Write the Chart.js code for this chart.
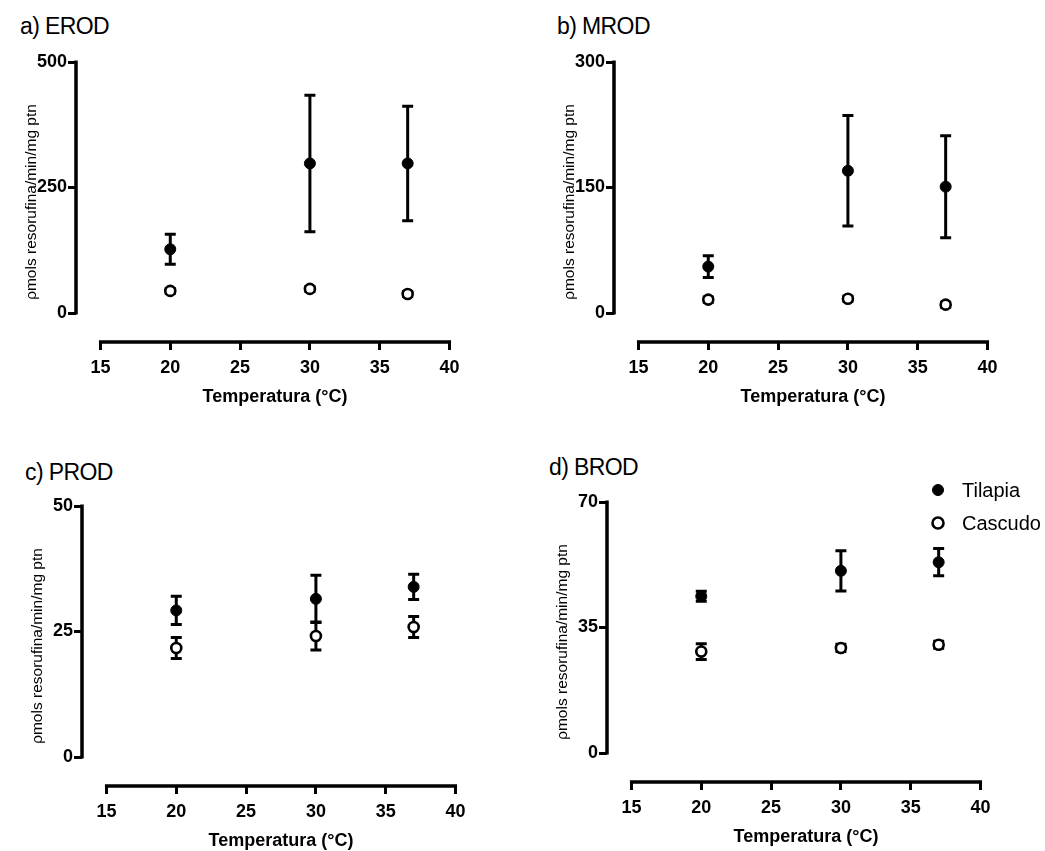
<!DOCTYPE html>
<html>
<head>
<meta charset="utf-8">
<script src="https://cdn.jsdelivr.net/npm/chart.js@4.4.1/dist/chart.umd.min.js"></script>
<style>
  body { margin: 0; width: 1045px; height: 851px; overflow: hidden; background: #fff; position: relative; }
  canvas { position: absolute; }
  .ptitle { position: absolute; font: 23px "Liberation Sans", Arial, sans-serif; line-height: 23px; letter-spacing: -0.6px; color: #000; white-space: nowrap; }
</style>
</head>
<body>
<div class="ptitle" style="left:20px;top:15px">a) EROD</div>
<div class="ptitle" style="left:557px;top:15px">b) MROD</div>
<div class="ptitle" style="left:25px;top:461px">c) PROD</div>
<div class="ptitle" style="left:549px;top:456px">d) BROD</div>
<canvas id="chartA" width="522" height="420" style="left:0px;top:0px"></canvas>
<canvas id="chartB" width="522" height="420" style="left:538px;top:0px"></canvas>
<canvas id="chartC" width="522" height="420" style="left:6px;top:444px"></canvas>
<canvas id="chartD" width="522" height="420" style="left:531px;top:440px"></canvas>
<script>
const temps = [20, 30, 37];
const xTicks = [15, 20, 25, 30, 35, 40];

// EROD
const erodTicks = [0, 250, 500];
const erodTilapia = [127, 298, 298];
const erodTilapiaErr = [30, 136, 114];
const erodCascudo = [44, 48, 38];
const erodCascudoErr = [5, 5, 5];

// MROD
const mrodTicks = [0, 150, 300];
const mrodTilapia = [55.5, 170, 151];
const mrodTilapiaErr = [13, 66, 61];
const mrodCascudo = [16, 17, 10];
const mrodCascudoErr = [3, 3, 3];

// PROD
const prodTicks = [0, 25, 50];
const prodTilapia = [29.2, 31.5, 33.9];
const prodTilapiaErr = [2.8, 4.7, 2.5];
const prodCascudo = [21.7, 24.1, 25.9];
const prodCascudoErr = [2.1, 2.8, 2.1];

// BROD
const brodTicks = [0, 35, 70];
const brodTilapia = [43.7, 50.8, 53.2];
const brodTilapiaErr = [1.4, 5.6, 3.8];
const brodCascudo = [28.3, 29.3, 30.2];
const brodCascudoErr = [2.2, 1, 1];

Chart.defaults.font.family = '"Liberation Sans", Arial, sans-serif';
Chart.defaults.color = '#000';

const errorBars = {
  id: 'errorBars',
  beforeDatasetsDraw(chart) {
    const { ctx, scales: { x, y } } = chart;
    ctx.save();
    ctx.strokeStyle = '#000';
    ctx.lineWidth = 3;
    chart.data.datasets.forEach(ds => {
      ds.data.forEach((p, i) => {
        const e = ds.errors[i];
        const px = x.getPixelForValue(p.x);
        const top = y.getPixelForValue(p.y + e);
        const bot = y.getPixelForValue(p.y - e);
        ctx.beginPath();
        ctx.moveTo(px, top); ctx.lineTo(px, bot);
        ctx.moveTo(px - 5.5, top); ctx.lineTo(px + 5.5, top);
        ctx.moveTo(px - 5.5, bot); ctx.lineTo(px + 5.5, bot);
        ctx.stroke();
      });
    });
    ctx.restore();
  }
};

// axis lines only over the tick range, like the original figure
const axisLines = {
  id: 'axisLines',
  afterDraw(chart) {
    const { ctx, chartArea, scales: { x, y } } = chart;
    const yt = y.ticks.map(t => t.value);
    const xt = x.ticks.map(t => t.value);
    ctx.save();
    ctx.strokeStyle = '#000';
    ctx.lineWidth = 3.5;
    ctx.beginPath();
    ctx.moveTo(chartArea.left, y.getPixelForValue(yt[0]) + 1.5);
    ctx.lineTo(chartArea.left, y.getPixelForValue(yt[yt.length - 1]) - 1.5);
    ctx.moveTo(x.getPixelForValue(xt[0]) - 1.5, chartArea.bottom);
    ctx.lineTo(x.getPixelForValue(xt[xt.length - 1]) + 1.5, chartArea.bottom);
    ctx.stroke();
    ctx.restore();
  }
};

const sideLegend = {
  id: 'sideLegend',
  afterDraw(chart, args, opts) {
    if (!opts.show) return;
    const { ctx, chartArea } = chart;
    ctx.save();
    chart.data.datasets.forEach((ds, i) => {
      const cx = chartArea.right - 67;
      const cy = chartArea.top - 12 + i * 33;
      ctx.beginPath();
      ctx.arc(cx, cy, 5.5, 0, Math.PI * 2);
      ctx.fillStyle = ds.backgroundColor;
      ctx.fill();
      ctx.lineWidth = ds.borderWidth;
      ctx.strokeStyle = ds.borderColor;
      ctx.stroke();
      ctx.fillStyle = '#000';
      ctx.font = '20px "Liberation Sans", Arial, sans-serif';
      ctx.textBaseline = 'middle';
      ctx.fillText(ds.label, cx + 24, cy + 1);
    });
    ctx.restore();
  }
};

function points(vals) {
  return temps.map((t, i) => ({ x: t, y: vals[i] }));
}

function makePanel(id, yTicks, til, tilErr, cas, casErr, legend) {
  const yMax = yTicks[yTicks.length - 1];
  new Chart(document.getElementById(id), {
    type: 'scatter',
    data: {
      datasets: [{
        label: 'Tilapia',
        data: points(til),
        errors: tilErr,
        pointRadius: 5.5,
        pointHoverRadius: 5.5,
        backgroundColor: '#000',
        borderColor: '#000',
        borderWidth: 1
      }, {
        label: 'Cascudo',
        data: points(cas),
        errors: casErr,
        pointRadius: 5,
        pointHoverRadius: 5,
        backgroundColor: '#fff',
        borderColor: '#000',
        borderWidth: 2.6
      }]
    },
    options: {
      responsive: false,
      animation: false,
      devicePixelRatio: 1,
      layout: { padding: { left: 0, top: 62, right: 48, bottom: 0 } },
      plugins: {
        legend: { display: false },
        tooltip: { enabled: false },
        sideLegend: { show: legend }
      },
      scales: {
        x: {
          type: 'linear',
          min: 13.25,
          max: 41.75,
          afterBuildTicks: s => { s.ticks = xTicks.map(v => ({ value: v })); },
          afterFit: s => { s.height = 78; },
          border: { display: false },
          grid: { drawOnChartArea: false, drawTicks: true, tickLength: 8, lineWidth: 3, color: '#000' },
          ticks: { padding: 7, font: { size: 18, weight: 'bold' }, maxRotation: 0 },
          title: { display: true, text: 'Temperatura (°C)', font: { size: 18, weight: 'bold' }, padding: { top: 0, bottom: 12 } }
        },
        y: {
          min: -0.1155 * yMax,
          max: yMax,
          afterBuildTicks: s => { s.ticks = yTicks.map(v => ({ value: v })); },
          afterFit: s => { s.width = 76; },
          border: { display: false },
          grid: { drawOnChartArea: false, drawTicks: true, tickLength: 8, lineWidth: 3, color: '#000' },
          ticks: { padding: 1, font: { size: 18, weight: 'bold' } },
          title: { display: true, text: 'ρmols resorufina/min/mg ptn', font: { size: 15.5 }, padding: { top: 22, bottom: 0 } }
        }
      }
    },
    plugins: [errorBars, axisLines, sideLegend]
  });
}

makePanel('chartA', erodTicks, erodTilapia, erodTilapiaErr, erodCascudo, erodCascudoErr, false);
makePanel('chartB', mrodTicks, mrodTilapia, mrodTilapiaErr, mrodCascudo, mrodCascudoErr, false);
makePanel('chartC', prodTicks, prodTilapia, prodTilapiaErr, prodCascudo, prodCascudoErr, false);
makePanel('chartD', brodTicks, brodTilapia, brodTilapiaErr, brodCascudo, brodCascudoErr, true);
</script>
</body>
</html>
